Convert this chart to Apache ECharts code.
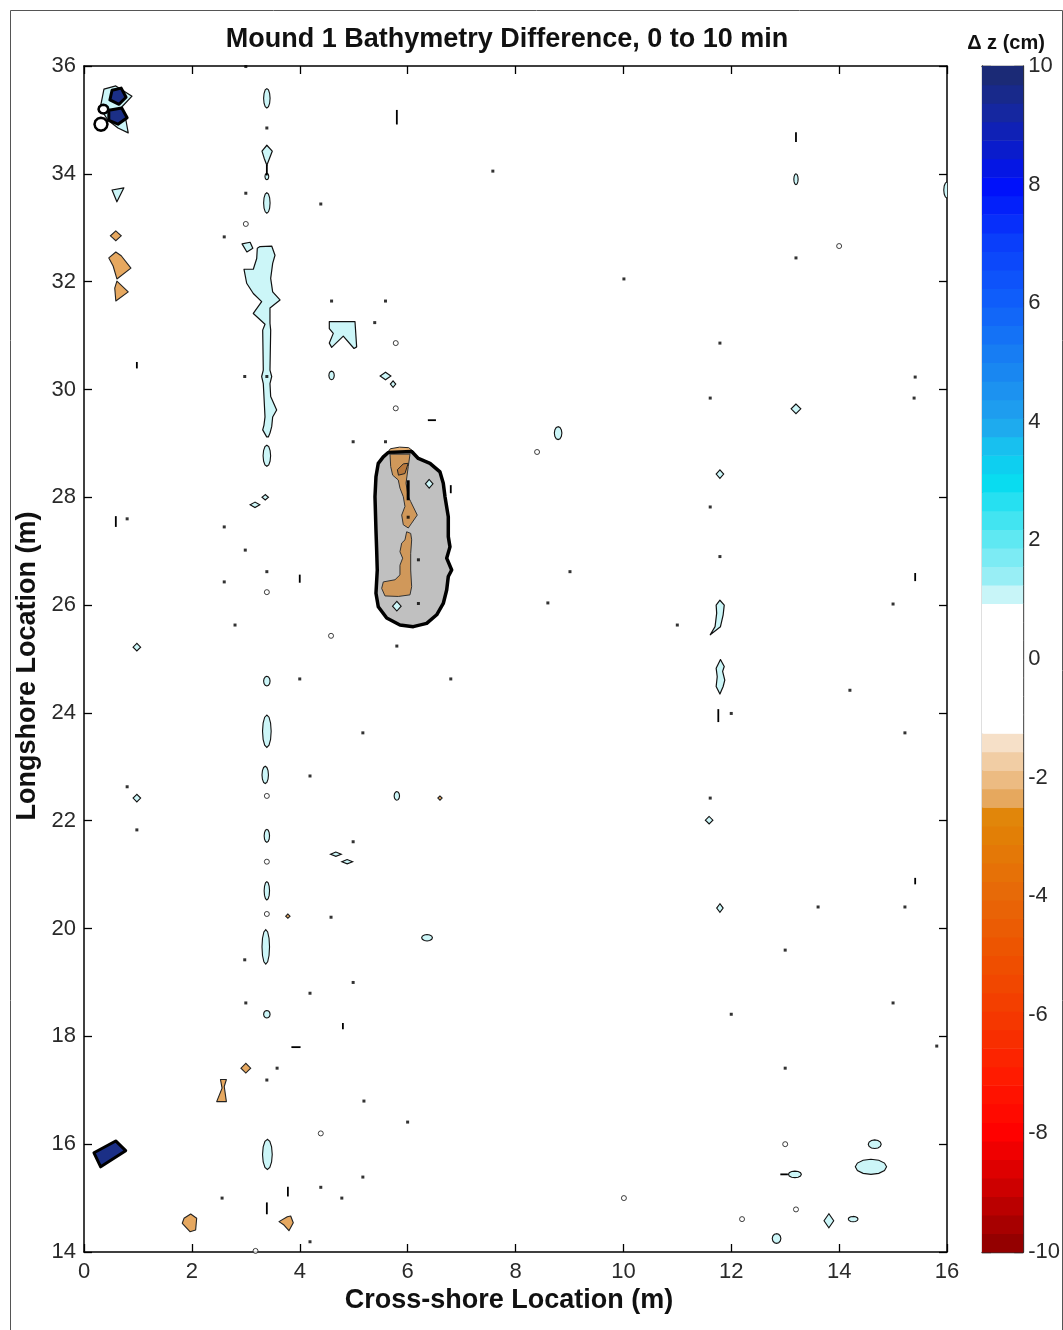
<!DOCTYPE html>
<html><head><meta charset="utf-8">
<script src="https://cdn.jsdelivr.net/npm/echarts@6/dist/echarts.min.js"></script>
<style>html,body{margin:0;padding:0;background:#fff}#c{width:1063px;height:1330px}</style>
</head><body><div id="c"></div>
<script>
// ---------- DATA (all in data units: x = cross-shore m, y = longshore m) ----------
const xTicks = [0,2,4,6,8,10,12,14,16];
const yTicks = [14,16,18,20,22,24,26,28,30,32,34,36];
const cbTicks = [-10,-8,-6,-4,-2,0,2,4,6,8,10];

// gray mound (dz between -1.25 and 0.94 inside a thick 0-level outline)
const moundOutline = [[5.641,28.83],[6.075,28.85],[6.198,28.72],[6.415,28.63],[6.600,28.47],[6.661,28.26],[6.693,28.01],[6.754,27.64],[6.754,27.27],[6.785,27.08],[6.724,26.87],[6.817,26.65],[6.754,26.53],[6.724,26.28],[6.661,26.03],[6.539,25.82],[6.353,25.66],[6.105,25.60],[5.858,25.63],[5.612,25.76],[5.456,25.97],[5.413,26.22],[5.437,26.65],[5.426,27.02],[5.413,27.39],[5.395,28.01],[5.413,28.38],[5.456,28.63],[5.549,28.75]];
const moundCap = [[5.60,28.79],[5.68,28.90],[5.85,28.93],[6.02,28.92],[6.12,28.84],[5.90,28.79]];
const moundTan = [
  [[5.673,28.80],[6.044,28.80],[6.012,28.57],[5.970,28.26],[6.012,28.01],[6.057,27.92],[6.179,27.67],[6.075,27.52],[6.012,27.43],[5.920,27.49],[5.890,27.67],[5.951,27.83],[5.920,28.01],[5.858,28.17],[5.827,28.32],[5.723,28.41],[5.686,28.57]],
  [[5.982,27.36],[6.057,27.33],[6.075,27.21],[6.057,26.96],[6.057,26.65],[6.075,26.34],[6.044,26.19],[5.827,26.16],[5.580,26.17],[5.519,26.31],[5.549,26.43],[5.766,26.47],[5.858,26.56],[5.858,26.74],[5.908,26.87],[5.858,26.99],[5.890,27.15],[5.951,27.21]]
];
const moundDark = [[[5.81,28.51],[5.92,28.62],[6.01,28.63],[5.95,28.44],[5.83,28.41]]];

// light cyan contour patches (dz about +1 to +1.25 cm)
const cyanPatches = [
  [[3.213,32.62],[3.263,32.65],[3.480,32.66],[3.541,32.49],[3.498,32.34],[3.461,32.06],[3.498,31.81],[3.634,31.66],[3.448,31.51],[3.448,31.227],[3.461,31.10],[3.448,30.36],[3.480,30.24],[3.448,30.11],[3.461,29.87],[3.572,29.62],[3.498,29.49],[3.480,29.31],[3.448,29.19],[3.417,29.12],[3.387,29.12],[3.313,29.25],[3.337,29.34],[3.356,29.49],[3.324,30.11],[3.294,30.24],[3.324,30.36],[3.313,31.10],[3.356,31.21],[3.139,31.41],[3.294,31.63],[3.139,31.78],[3.016,31.97],[2.966,32.23],[3.139,32.23],[3.202,32.43]],
  [[4.548,31.26],[5.024,31.26],[5.055,30.79],[5.006,30.76],[4.807,30.99],[4.592,30.78],[4.548,30.86],[4.622,31.04],[4.548,31.13]],
  [[11.79,26.09],[11.87,26.00],[11.85,25.82],[11.80,25.60],[11.61,25.45],[11.70,25.60],[11.73,25.85],[11.72,26.00]],
  [[11.80,24.99],[11.87,24.86],[11.84,24.77],[11.88,24.61],[11.85,24.49],[11.79,24.35],[11.72,24.49],[11.74,24.67],[11.72,24.83]],
  [[3.39,34.53],[3.49,34.42],[3.44,34.29],[3.39,34.16],[3.34,34.29],[3.30,34.42]],
  [[0.52,33.70],[0.74,33.74],[0.61,33.48]],
  [[2.93,32.70],[3.08,32.73],[3.13,32.62],[3.02,32.55]],
  [[0.37,35.57],[0.59,35.63],[0.89,35.44],[0.70,35.24],[0.78,34.98],[0.82,34.76],[0.63,34.85],[0.44,35.00],[0.30,35.22]]
];
// small cyan ovals [cx, cy, rx, ry]
const cyanOvals = [
  [3.39,35.40,0.06,0.18],[3.39,33.46,0.06,0.19],[3.39,33.95,0.035,0.06],[3.39,28.77,0.07,0.195],[3.39,24.59,0.06,0.09],
  [3.39,23.66,0.08,0.30],[3.36,22.85,0.06,0.16],[3.39,21.72,0.05,0.12],[3.39,20.70,0.05,0.17],
  [3.37,19.66,0.07,0.32],[3.39,18.41,0.06,0.07],[3.40,15.81,0.09,0.28],[8.79,29.19,0.07,0.12],
  [5.80,22.46,0.05,0.08],[13.20,33.90,0.04,0.10],[4.59,30.26,0.05,0.08],[6.36,19.83,0.10,0.06],
  [13.18,15.44,0.12,0.06],[14.66,16.00,0.12,0.08],[14.59,15.58,0.29,0.14],[14.26,14.61,0.09,0.05],
  [12.84,14.25,0.08,0.09],[16.00,33.70,0.06,0.15]
];
// small cyan diamonds [cx, cy, rx, ry]
const cyanDiamonds = [
  [0.98,25.22,0.07,0.07],[0.98,22.42,0.07,0.07],[11.59,22.01,0.07,0.07],[11.79,20.38,0.06,0.08],
  [11.79,28.43,0.07,0.08],[13.20,29.64,0.09,0.09],[6.40,28.25,0.07,0.08],[13.81,14.58,0.09,0.13],
  [3.36,28.00,0.06,0.05],[3.17,27.86,0.09,0.05],[5.59,30.25,0.10,0.07],[5.73,30.10,0.05,0.06],
  [4.67,21.38,0.10,0.04],[4.88,21.24,0.10,0.04],[5.80,25.98,0.08,0.09]
];
// tan contour patches (dz about -1.25 to -2.5 cm)
const tanPatches = [
  [[0.59,32.55],[0.46,32.44],[0.54,32.29],[0.61,32.05],[0.87,32.25],[0.69,32.48]],
  [[0.61,32.01],[0.82,31.81],[0.59,31.64],[0.57,31.88]],
  [[2.53,17.20],[2.64,17.20],[2.60,17.07],[2.64,16.79],[2.46,16.79],[2.56,17.04]],
  [[1.854,14.625],[1.978,14.705],[2.089,14.625],[2.070,14.408],[1.965,14.377],[1.822,14.533]],
  [[3.615,14.563],[3.769,14.655],[3.832,14.668],[3.880,14.543],[3.800,14.395],[3.708,14.500]]
];
const tanDiamonds = [[0.59,32.85,0.10,0.09],[3.00,17.41,0.09,0.09],[6.60,22.42,0.04,0.04],[3.78,20.23,0.04,0.04]];
// dark blue patches (dz > +8 cm) and heavy rings near the left edge
const navyPatches = [
  [[0.52,35.55],[0.69,35.59],[0.78,35.42],[0.65,35.29],[0.48,35.37]],
  [[0.46,35.18],[0.70,35.22],[0.80,35.04],[0.63,34.92],[0.46,34.99]],
  [[0.185,15.84],[0.588,16.06],[0.773,15.88],[0.309,15.58]]
];
const heavyRings = [[0.315,34.92,0.12,0.12],[0.36,35.20,0.09,0.08]];
// isolated tiny contours: dots, rings, dashes [x, y, length, 0=vertical / 1=horizontal]
const dots = [[3.0,35.99],[3.39,34.85],[3.0,33.64],[2.6,32.83],[7.58,34.05],[4.39,33.44],[13.2,32.44],[10.01,32.05],[4.59,31.64],[5.59,31.64],[5.39,31.24],[2.98,30.24],[11.79,30.86],[15.41,30.23],[11.61,29.84],[15.39,29.84],[4.99,29.03],[5.59,29.03],[11.61,27.82],[2.6,27.45],[0.80,27.6],[2.99,27.02],[9.01,26.62],[11.79,26.9],[3.39,26.62],[2.6,26.43],[8.60,26.04],[15.0,26.02],[2.8,25.63],[11.0,25.63],[5.80,25.24],[4.0,24.63],[6.80,24.63],[14.2,24.42],[12.0,23.99],[5.17,23.63],[15.22,23.63],[4.19,22.83],[0.80,22.63],[11.61,22.42],[0.98,21.83],[4.99,21.61],[13.61,20.40],[15.22,20.40],[4.58,20.21],[13.0,19.6],[2.98,19.42],[4.99,19.0],[4.19,18.8],[3.0,18.62],[15.0,18.62],[12.0,18.41],[15.81,17.82],[3.58,17.41],[13.0,17.41],[3.39,17.19],[5.19,16.80],[6.0,16.41],[4.39,15.20],[2.56,15.0],[4.78,15.0],[5.17,15.39],[4.19,14.19],[6.20,26.84],[6.20,26.03],[6.01,27.63],[3.39,30.24]];
const rings = [[5.78,30.86],[5.78,29.65],[3.39,26.24],[4.58,25.43],[8.40,28.84],[14.0,32.66],[3.0,33.07],[13.0,16.0],[4.39,16.20],[13.2,14.79],[12.2,14.61],[10.01,15.0],[3.39,21.24],[3.39,20.27],[3.39,22.46],[3.18,14.02]];
const dashes = [[5.80,35.05,0.27,0],[13.2,34.68,0.18,0],[0.98,30.45,0.12,0],[6.45,29.43,0.15,1],[6.80,28.15,0.15,0],[0.59,27.55,0.2,0],[4.0,26.49,0.15,0],[15.41,26.52,0.15,0],[11.76,23.95,0.24,0],[15.41,20.88,0.12,0],[4.8,18.19,0.12,0],[3.93,17.80,0.17,1],[3.78,15.12,0.18,0],[3.39,14.81,0.22,0],[12.98,15.44,0.14,1],[3.39,34.07,0.2,0]];
const moundMarks = [[6.01,28.13,0.37,0]];

// ---------- STYLE ----------
const CYAN = '#ccf6f8', TAN = '#e6a860', GRAY = '#c0c0c0', NAVY = '#1b2f86';
const FONT = '"Liberation Sans", Arial, sans-serif';
// colour map anchors (value -> colour), used only for the colour bar
const cmapAnchors = [[-10,'#8a0000'],[-9,'#c80000'],[-8,'#ff0000'],[-7,'#ff1c00'],[-6,'#f43a00'],[-5,'#ee5200'],[-4,'#e86808'],[-3,'#e27e06'],[-2.5,'#e08a0c'],
  [1.25,'#a6f0f6'],[2,'#62e8f2'],[3,'#06dcf0'],[3.6,'#18c0ef'],[4,'#20a4ee'],[5,'#1882f2'],[6,'#1060fa'],[7,'#0a3ffa'],[8,'#0010fa'],[8.6,'#0a1ccc'],[9.3,'#16289a'],[10,'#1c2a6c']];
const lightTan = ['#e6a85e','#ecbb82','#f1cda4','#f6e0c8'];
function hex(c){return [parseInt(c.slice(1,3),16),parseInt(c.slice(3,5),16),parseInt(c.slice(5,7),16)];}
function lerpColor(v){
  for(let i=0;i<cmapAnchors.length-1;i++){
    const a=cmapAnchors[i],b=cmapAnchors[i+1];
    if(v>=a[0]&&v<=b[0]){const t=(v-a[0])/(b[0]-a[0]);const A=hex(a[1]),B=hex(b[1]);
      return 'rgb('+A.map((x,j)=>Math.round(x+(B[j]-x)*t)).join(',')+')';}
  }
  return cmapAnchors[cmapAnchors.length-1][1];
}
const NLEV = 64, STEP = 20/NLEV;
const cbBands = [];
for(let k=0;k<NLEV;k++){
  const lo=-10+k*STEP, hi=lo+STEP, mid=(lo+hi)/2;
  let col;
  if(k>=28 && k<=34) col='#ffffff';
  else if(k>=24 && k<=27) col=lightTan[k-24];
  else if(k===35) col='#c8f5f8';
  else col=lerpColor(mid);
  cbBands.push([lo,hi,col]);
}

// ---------- RENDER HELPERS ----------
function polySeries(polys, fill, stroke, lw, z){
  return {type:'custom',coordinateSystem:'cartesian2d',xAxisIndex:0,yAxisIndex:0,clip:true,silent:true,z:z,
    data: polys.map(p=>p[0]),
    renderItem:(params,api)=>({type:'polygon',shape:{points:polys[params.dataIndex].map(v=>api.coord(v))},
      style:{fill:fill,stroke:stroke,lineWidth:lw,lineJoin:'round'}})};
}
function ovalSeries(list, fill, stroke, lw, z, n){
  return {type:'custom',coordinateSystem:'cartesian2d',xAxisIndex:0,yAxisIndex:0,clip:true,silent:true,z:z,
    data: list,
    renderItem:(params,api)=>{
      const cx=api.value(0),cy=api.value(1),rx=api.value(2),ry=api.value(3);const pts=[];
      for(let i=0;i<n;i++){const a=Math.PI/2+2*Math.PI*i/n;pts.push(api.coord([cx+rx*Math.cos(a),cy+ry*Math.sin(a)]));}
      return {type:'polygon',shape:{points:pts},style:{fill:fill,stroke:stroke,lineWidth:lw}};
    }};
}
function dashSeries(list, lw, z){
  return {type:'custom',coordinateSystem:'cartesian2d',xAxisIndex:0,yAxisIndex:0,clip:true,silent:true,z:z,
    data:list,
    renderItem:(params,api)=>{
      const x=api.value(0),y=api.value(1),L=api.value(2),o=api.value(3);
      const p1=o?api.coord([x-L/2,y]):api.coord([x,y-L/2]);
      const p2=o?api.coord([x+L/2,y]):api.coord([x,y+L/2]);
      return {type:'line',shape:{x1:p1[0],y1:p1[1],x2:p2[0],y2:p2[1]},style:{stroke:'#000',lineWidth:lw}};
    }};
}

const axisLbl = {fontFamily:FONT,fontSize:22,color:'#2a2a2a'};
const chart = echarts.init(document.getElementById('c'),null,{renderer:'canvas'});
chart.setOption({
  backgroundColor:'#fff',
  animation:false,
  grid:[
    {left:84,top:66,width:863,height:1186,show:false},
    {left:982,top:66,width:42,height:1186,show:false}
  ],
  xAxis:[
    {gridIndex:0,type:'value',min:0,max:16,interval:2,position:'bottom',
      axisLine:{show:true,onZero:false,lineStyle:{color:'#000',width:1.5}},
      axisTick:{show:true,inside:true,length:8,lineStyle:{color:'#000',width:1.3}},
      axisLabel:Object.assign({margin:9},axisLbl),splitLine:{show:false}},
    {gridIndex:0,type:'value',min:0,max:16,interval:2,position:'top',
      axisLine:{show:true,onZero:false,lineStyle:{color:'#000',width:1.5}},
      axisTick:{show:true,inside:true,length:8,lineStyle:{color:'#000',width:1.3}},
      axisLabel:{show:false},splitLine:{show:false}},
    {gridIndex:1,type:'value',min:0,max:1,position:'bottom',
      axisLine:{show:true,onZero:false,lineStyle:{color:'#333',width:1.3}},axisTick:{show:false},axisLabel:{show:false},splitLine:{show:false}},
    {gridIndex:1,type:'value',min:0,max:1,position:'top',
      axisLine:{show:true,onZero:false,lineStyle:{color:'#333',width:1.3}},axisTick:{show:false},axisLabel:{show:false},splitLine:{show:false}}
  ],
  yAxis:[
    {gridIndex:0,type:'value',min:14,max:36,interval:2,position:'left',
      axisLine:{show:true,onZero:false,lineStyle:{color:'#000',width:1.5}},
      axisTick:{show:true,inside:true,length:8,lineStyle:{color:'#000',width:1.3}},
      axisLabel:Object.assign({margin:8},axisLbl),splitLine:{show:false}},
    {gridIndex:0,type:'value',min:14,max:36,interval:2,position:'right',
      axisLine:{show:true,onZero:false,lineStyle:{color:'#000',width:1.5}},
      axisTick:{show:true,inside:true,length:8,lineStyle:{color:'#000',width:1.3}},
      axisLabel:{show:false},splitLine:{show:false}},
    {gridIndex:1,type:'value',min:-10,max:10,interval:2,position:'left',
      axisLine:{show:true,onZero:false,lineStyle:{color:'#333',width:1.3}},
      axisTick:{show:true,inside:true,length:9,lineStyle:{color:'#222',width:1.3}},
      axisLabel:{show:false},splitLine:{show:false}},
    {gridIndex:1,type:'value',min:-10,max:10,interval:2,position:'right',
      axisLine:{show:true,onZero:false,lineStyle:{color:'#333',width:1.3}},
      axisTick:{show:true,inside:true,length:9,lineStyle:{color:'#222',width:1.3}},
      axisLabel:Object.assign({margin:5},axisLbl),splitLine:{show:false}}
  ],
  graphic:[
    {type:'rect',left:8,top:8,shape:{width:1052,height:1320},style:{fill:'none',stroke:'#555',lineWidth:1},z:-10,silent:true},
    {type:'text',x:507,y:40,style:{text:'Mound 1 Bathymetry Difference, 0 to 10 min',fontFamily:FONT,fontSize:27,fontWeight:'bold',fill:'#111',align:'center',verticalAlign:'middle'}},
    {type:'text',x:509,y:1301,style:{text:'Cross-shore Location (m)',fontFamily:FONT,fontSize:27,fontWeight:'bold',fill:'#111',align:'center',verticalAlign:'middle'}},
    {type:'text',x:28,y:666,rotation:Math.PI/2,style:{text:'Longshore Location (m)',fontFamily:FONT,fontSize:27,fontWeight:'bold',fill:'#111',align:'center',verticalAlign:'middle'}},
    {type:'text',x:1006,y:43,style:{text:'\u0394 z (cm)',fontFamily:FONT,fontSize:20,fontWeight:'bold',fill:'#111',align:'center',verticalAlign:'middle'}}
  ],
  series:[
    // colour bar
    {type:'custom',coordinateSystem:'cartesian2d',xAxisIndex:2,yAxisIndex:2,silent:true,z:1,
      data:cbBands.map(b=>[0,b[0],b[1]]),
      renderItem:(params,api)=>{
        const p1=api.coord([0,api.value(2)]),p2=api.coord([1,api.value(1)]);
        return {type:'rect',shape:{x:p1[0],y:p1[1],width:p2[0]-p1[0],height:p2[1]-p1[1]+0.6},style:{fill:cbBands[params.dataIndex][2]}};
      }},
    polySeries([moundCap], '#e8b070', '#222', 1, 2),
    polySeries([moundOutline], GRAY, '#000', 3.5, 3),
    polySeries(moundTan, '#d0985a', '#333', 1, 4),
    polySeries(moundDark, '#b8783c', '#222', 1, 5),
    dashSeries(moundMarks, 3, 6),
    polySeries(cyanPatches, CYAN, '#111', 1.2, 4),
    ovalSeries(cyanOvals, CYAN, '#111', 1.1, 4, 12),
    ovalSeries(cyanDiamonds, CYAN, '#111', 1.1, 4, 4),
    polySeries(tanPatches, TAN, '#222', 1.1, 4),
    ovalSeries(tanDiamonds, TAN, '#222', 1.1, 4, 4),
    polySeries(navyPatches, NAVY, '#000', 3, 6),
    ovalSeries(heavyRings, '#fff', '#000', 2.5, 6, 12),
    dashSeries(dashes, 1.8, 6),
    {type:'scatter',xAxisIndex:0,yAxisIndex:0,data:rings,symbol:'circle',symbolSize:5,silent:true,z:6,
      itemStyle:{color:'#fff',borderColor:'#111',borderWidth:1}},
    {type:'scatter',xAxisIndex:0,yAxisIndex:0,data:dots,symbol:'rect',symbolSize:3,silent:true,z:6,
      itemStyle:{color:'#000'}}
  ]
});
</script></body></html>
